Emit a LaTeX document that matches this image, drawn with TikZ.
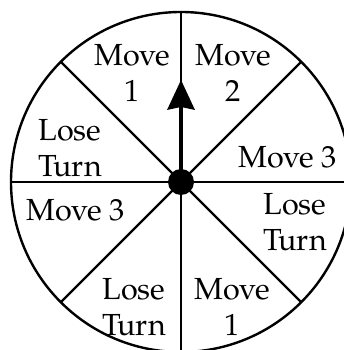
\documentclass[tikz,border=0pt]{standalone}
\usepackage{fontspec}
\setmainfont{TeX Gyre Pagella}
\begin{document}
\begin{tikzpicture}[x=1pt,y=1pt,
  lbl/.style={align=center,inner sep=0pt,font=\fontsize{30.5}{36}\selectfont},
  ln/.style={line width=2.4pt}]
\useasboundingbox (0,0) rectangle (344,350);
\clip (0,0) rectangle (344,350);
\coordinate (c) at (181,168);
\draw[ln] (c) circle (170);
\foreach \a in {0,45,...,315}{
  \draw[ln] (c) -- ++(\a:170);
}
\coordinate (tip) at (181,270);
\draw[line width=3.4pt] (c) -- (181,245);
\fill (tip) -- (167,240) -- (181,243) -- (195,240) -- cycle;
\fill (c) circle (13);
\node[lbl] (m1) at (132,277) {Move\\1};
\node[lbl] (m2) at (233,277) {Move\\2};
\node[lbl] (lt1) at (70,202) {Lose\\Turn};
\node[lbl] (m3a) at (288,193) {Move 3};
\node[lbl] (m3b) at (76,140) {Move 3};
\node[lbl] (lt2) at (295,128) {Lose\\Turn};
\node[lbl] (lt3) at (134,43) {Lose\\Turn};
\node[lbl] (m1b) at (232,43) {Move\\1};
\end{tikzpicture}
\end{document}
